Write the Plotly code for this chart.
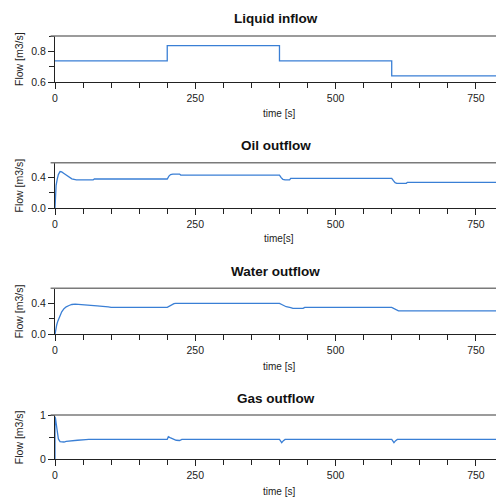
import plotly.graph_objects as go

# Simulation results: separator inflow and outflows over time
liquid_t = [0, 200, 400, 600, 800]
liquid_q = [0.74, 0.84, 0.74, 0.64, 0.64]

oil_t = [0, 0.3, 1, 2, 4, 6, 9, 12, 16, 22, 30, 38, 50, 68, 70,
         200, 203, 206, 210, 222, 224, 400, 403, 406, 410, 418, 420,
         600, 603, 606, 609, 626, 628, 800]
oil_q = [0, 0.12, 0.25, 0.30, 0.38, 0.44, 0.48, 0.475, 0.455, 0.42, 0.385, 0.372, 0.37, 0.37, 0.382,
         0.382, 0.42, 0.44, 0.447, 0.447, 0.434, 0.434, 0.40, 0.378, 0.37, 0.37, 0.391,
         0.391, 0.36, 0.335, 0.326, 0.326, 0.339, 0.339]

water_t = [0, 1, 3, 5, 8, 12, 16, 20, 25, 30, 36, 45, 55, 75, 95, 100,
           200, 203, 207, 212, 215, 400, 404, 408, 412, 420, 424, 442, 445,
           600, 604, 608, 612, 800]
water_q = [0, 0.06, 0.12, 0.17, 0.23, 0.29, 0.33, 0.355, 0.372, 0.385, 0.39, 0.383, 0.372, 0.366, 0.355, 0.348,
           0.348, 0.36, 0.38, 0.395, 0.40, 0.40, 0.385, 0.368, 0.356, 0.345, 0.335, 0.335, 0.348,
           0.348, 0.33, 0.315, 0.302, 0.302]

gas_t = [0, 0.01, 1, 2, 3, 4, 6, 9, 12, 16, 20, 30, 40, 55, 60,
         200, 202, 205, 210, 216, 222, 226, 400, 402, 404, 407, 410,
         600, 602, 604, 607, 610, 800]
gas_q = [0, 0.96, 0.92, 0.82, 0.70, 0.58, 0.46, 0.40, 0.39, 0.39, 0.405, 0.41, 0.43, 0.445, 0.45,
         0.45, 0.51, 0.49, 0.46, 0.43, 0.425, 0.45, 0.45, 0.41, 0.375, 0.42, 0.45,
         0.45, 0.41, 0.375, 0.42, 0.45, 0.45]

panels = [
    dict(title="Liquid inflow", xlabel="time [s]", t=liquid_t, q=liquid_q, shape="hv",
         yrange=[0.6, 0.904], tick0=0.6, dtick=0.2, minor=0.1, fmt=".1f",
         top=36, bottom=82, title_y=18, xlabel_y=114),
    dict(title="Oil outflow", xlabel="time[s]", t=oil_t, q=oil_q, shape="linear",
         yrange=[0, 0.595], tick0=0, dtick=0.4, minor=0.2, fmt=".1f",
         top=162.7, bottom=208.3, title_y=146, xlabel_y=239),
    dict(title="Water outflow", xlabel="time [s]", t=water_t, q=water_q, shape="linear",
         yrange=[0, 0.594], tick0=0, dtick=0.4, minor=0.2, fmt=".1f",
         top=288.3, bottom=334.3, title_y=271.7, xlabel_y=366),
    dict(title="Gas outflow", xlabel="time [s]", t=gas_t, q=gas_q, shape="linear",
         yrange=[0, 1.0], tick0=0, dtick=1, minor=0.5, fmt="d",
         top=415, bottom=459.3, title_y=398.3, xlabel_y=491),
]

W, H = 496, 497
x_left = 55
x_max = (W - x_left) / 140.3 * 250
font_family = "Liberation Sans, Arial, sans-serif"
line_color = "#3a7fd5"
axis_color = "#222222"

fig = go.Figure()
layout = dict(width=W, height=H, margin=dict(l=0, r=0, t=0, b=0, autoexpand=False),
              paper_bgcolor="white", plot_bgcolor="white", showlegend=False,
              font=dict(family=font_family, size=10.5, color="#222222"))
annotations = []
shapes = []

for i, p in enumerate(panels, start=1):
    xa = "x" if i == 1 else f"x{i}"
    ya = "y" if i == 1 else f"y{i}"
    fig.add_trace(go.Scatter(x=p["t"], y=p["q"], mode="lines", xaxis=xa, yaxis=ya,
                             line=dict(color=line_color, width=1.3, shape=p["shape"])))
    ydom = [1 - p["bottom"] / H, 1 - p["top"] / H]
    layout["xaxis" if i == 1 else f"xaxis{i}"] = dict(
        domain=[x_left / W, 1], range=[0, x_max], anchor=ya, automargin=False,
        tickmode="linear", tick0=0, dtick=250, ticks="outside", ticklen=6,
        tickcolor=axis_color, tickwidth=1.2,
        minor=dict(dtick=50, ticks="outside", ticklen=5, tickcolor=axis_color, tickwidth=1),
        showline=True, linecolor=axis_color, linewidth=1.3, showgrid=False, zeroline=False,
        tickfont=dict(size=10.5, color="#222222"), fixedrange=True)
    layout["yaxis" if i == 1 else f"yaxis{i}"] = dict(
        domain=ydom, range=p["yrange"], anchor=xa, automargin=False,
        tickmode="linear", tick0=p["tick0"], dtick=p["dtick"], tickformat=p["fmt"],
        ticks="outside", ticklen=6, tickcolor=axis_color, tickwidth=1.2,
        minor=dict(dtick=p["minor"], ticks="outside", ticklen=5, tickcolor=axis_color, tickwidth=1),
        showline=True, linecolor=axis_color, linewidth=1.3, showgrid=False, zeroline=False,
        tickfont=dict(size=10.5, color="#222222"), fixedrange=True)
    # gray frame line along the top of each plot
    shapes.append(dict(type="line", xref=f"{xa} domain", yref=f"{ya} domain",
                       x0=-0.01, x1=1, y0=1, y1=1, line=dict(color="#7a7a7a", width=1.6)))
    annotations.append(dict(text=f"<b>{p['title']}</b>", xref="paper", yref="paper",
                            x=(x_left + W) / 2 / W, y=1 - p["title_y"] / H,
                            xanchor="center", yanchor="middle", showarrow=False,
                            font=dict(size=13.5, color="#111111", family=font_family)))
    annotations.append(dict(text=p["xlabel"], xref="paper", yref="paper",
                            x=278.5 / W, y=1 - p["xlabel_y"] / H,
                            xanchor="center", yanchor="middle", showarrow=False,
                            font=dict(size=10, color="#222222", family=font_family)))
    annotations.append(dict(text="Flow [m3/s]", xref="paper", yref="paper", textangle=-90,
                            x=19 / W, y=1 - (p["top"] + p["bottom"]) / 2 / H,
                            xanchor="center", yanchor="middle", showarrow=False,
                            font=dict(size=10.5, color="#222222", family=font_family)))

layout["annotations"] = annotations
layout["shapes"] = shapes
fig.update_layout(**layout)
fig.write_html("out.html")
